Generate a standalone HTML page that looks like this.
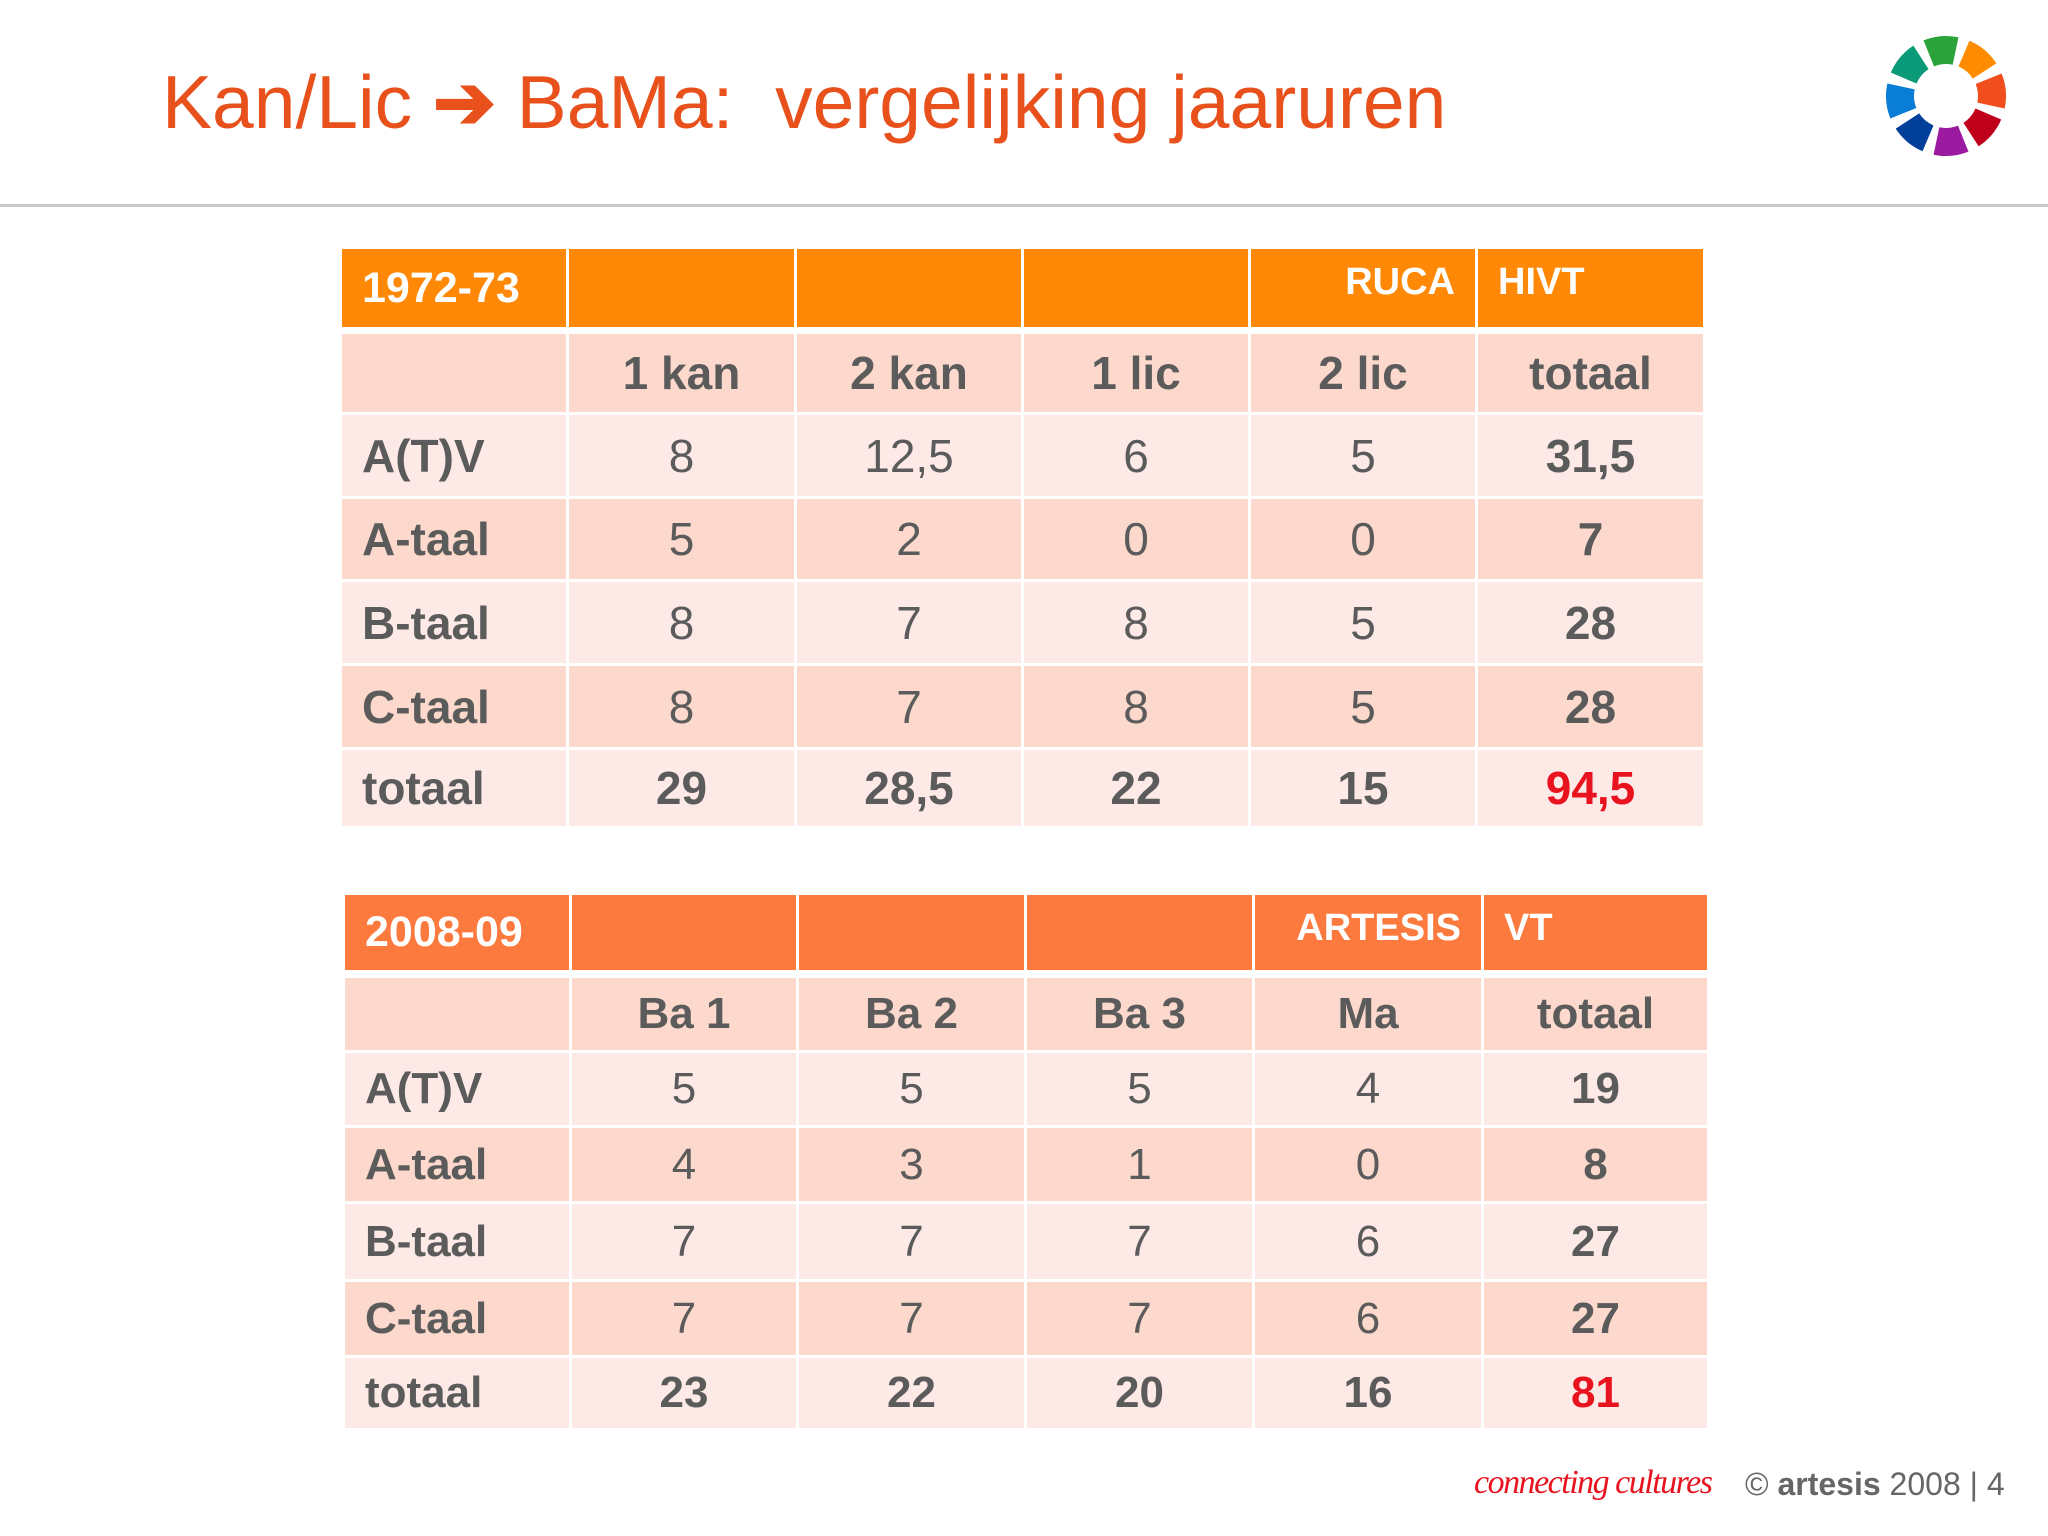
<!DOCTYPE html>
<html><head><meta charset="utf-8"><style>
body{margin:0;width:2048px;height:1536px;background:#fff;position:relative;overflow:hidden;font-family:"Liberation Sans",sans-serif}
.c{position:absolute;box-sizing:border-box;display:flex;align-items:center;justify-content:center;color:#5b5b5b;font-size:46px}
.b{font-weight:bold}
</style></head><body>
<div style="position:absolute;left:162px;top:58px;font-size:75px;color:#e8501c;white-space:nowrap">Kan/Lic <span style="font-weight:bold">➔</span> BaMa:&nbsp; vergelijking jaaruren</div>
<div style="position:absolute;left:0;top:204px;width:2048px;height:3px;background:#c8c8c8"></div>
<svg style="position:absolute;left:1880px;top:30px" width="132" height="132" viewBox="-66 -66 132 132" id="logo"></svg>
<div id="tables"></div>
<div style="position:absolute;left:1474px;top:1464px;font-family:'Liberation Serif',serif;font-style:italic;font-size:34px;color:#e8131f;letter-spacing:-1.5px;white-space:nowrap">connecting cultures</div>
<div style="position:absolute;left:1745px;top:1466px;font-size:32px;color:#666;white-space:nowrap">© <b>artesis</b> 2008 | 4</div>
<script>
var logo=document.getElementById('logo');
var cols=['#2aa33a','#ff8c00','#f04e1c','#c0001a','#9b1aa0','#003f9a','#0a7dd6','#0a9a78'];
for(var i=0;i<8;i++){
 var a0=(-112+i*45)*Math.PI/180,a1=a0+34*Math.PI/180,R=60,r=32;
 var p=document.createElementNS('http://www.w3.org/2000/svg','path');
 var d='M'+r*Math.cos(a0)+' '+r*Math.sin(a0)+' L'+R*Math.cos(a0)+' '+R*Math.sin(a0)+' A'+R+' '+R+' 0 0 1 '+R*Math.cos(a1)+' '+R*Math.sin(a1)+' L'+r*Math.cos(a1)+' '+r*Math.sin(a1)+' A'+r+' '+r+' 0 0 0 '+r*Math.cos(a0)+' '+r*Math.sin(a0)+'Z';
 p.setAttribute('d',d);p.setAttribute('fill',cols[i]);
 
 
 logo.appendChild(p);
}
var T=[
 {xs:[342,569,797,1024,1251,1478,1706],ys:[249,334,415,499,582,666,750,829],hc:'#ff8806',fs:46,
  head:['1972-73','','','','RUCA','HIVT'],
  cols:['','1 kan','2 kan','1 lic','2 lic','totaal'],
  rows:[['A(T)V','8','12,5','6','5','31,5'],['A-taal','5','2','0','0','7'],['B-taal','8','7','8','5','28'],['C-taal','8','7','8','5','28'],['totaal','29','28,5','22','15','94,5']]},
 {xs:[345,572,799,1027,1255,1484,1710],ys:[895,978,1053,1128,1204,1282,1358,1431],hc:'#fd7a3e',fs:44,
  head:['2008-09','','','','ARTESIS','VT'],
  cols:['','Ba 1','Ba 2','Ba 3','Ma','totaal'],
  rows:[['A(T)V','5','5','5','4','19'],['A-taal','4','3','1','0','8'],['B-taal','7','7','7','6','27'],['C-taal','7','7','7','6','27'],['totaal','23','22','20','16','81']]}
];
var host=document.getElementById('tables');
T.forEach(function(t,ti){
 var all=[t.head,t.cols].concat(t.rows);
 for(var r=0;r<all.length;r++)for(var c=0;c<6;c++){
  var d=document.createElement('div');d.className='c';
  var y0=r==0?t.ys[0]:t.ys[r],y1=r==0?(ti==0?327:970):t.ys[r+1]-3;
  d.style.left=t.xs[c]+'px';d.style.top=y0+'px';d.style.width=(t.xs[c+1]-t.xs[c]-3)+'px';d.style.height=(y1-y0)+'px';
  d.style.fontSize=t.fs+'px';
  var bg=r==0?t.hc:'#fcd9cc';
  if(r>=2)bg=(r%2==0)?'#fdeae6':'#fcd9cc';
  d.style.background=bg;
  d.textContent=all[r][c];
  if(r==0){d.style.color='#fff';d.style.fontWeight='bold';d.style.justifyContent='flex-start';d.style.paddingLeft='20px';
   if(c==0){d.style.fontSize='43px';} else {d.style.alignItems='flex-start';d.style.paddingTop='12px';d.style.fontSize='38px';}
   if(c==4){d.style.justifyContent='flex-end';d.style.paddingRight='20px';d.style.paddingLeft='0';}}
  else if(c==0){d.className+=' b';d.style.justifyContent='flex-start';d.style.paddingLeft='20px';}
  if(r==1||c==5||r==all.length-1)d.className+=' b';
  if(r==all.length-1&&c==5)d.style.color='#e8131f';
  
  
  host.appendChild(d);
 }
});
</script>
</body></html>
